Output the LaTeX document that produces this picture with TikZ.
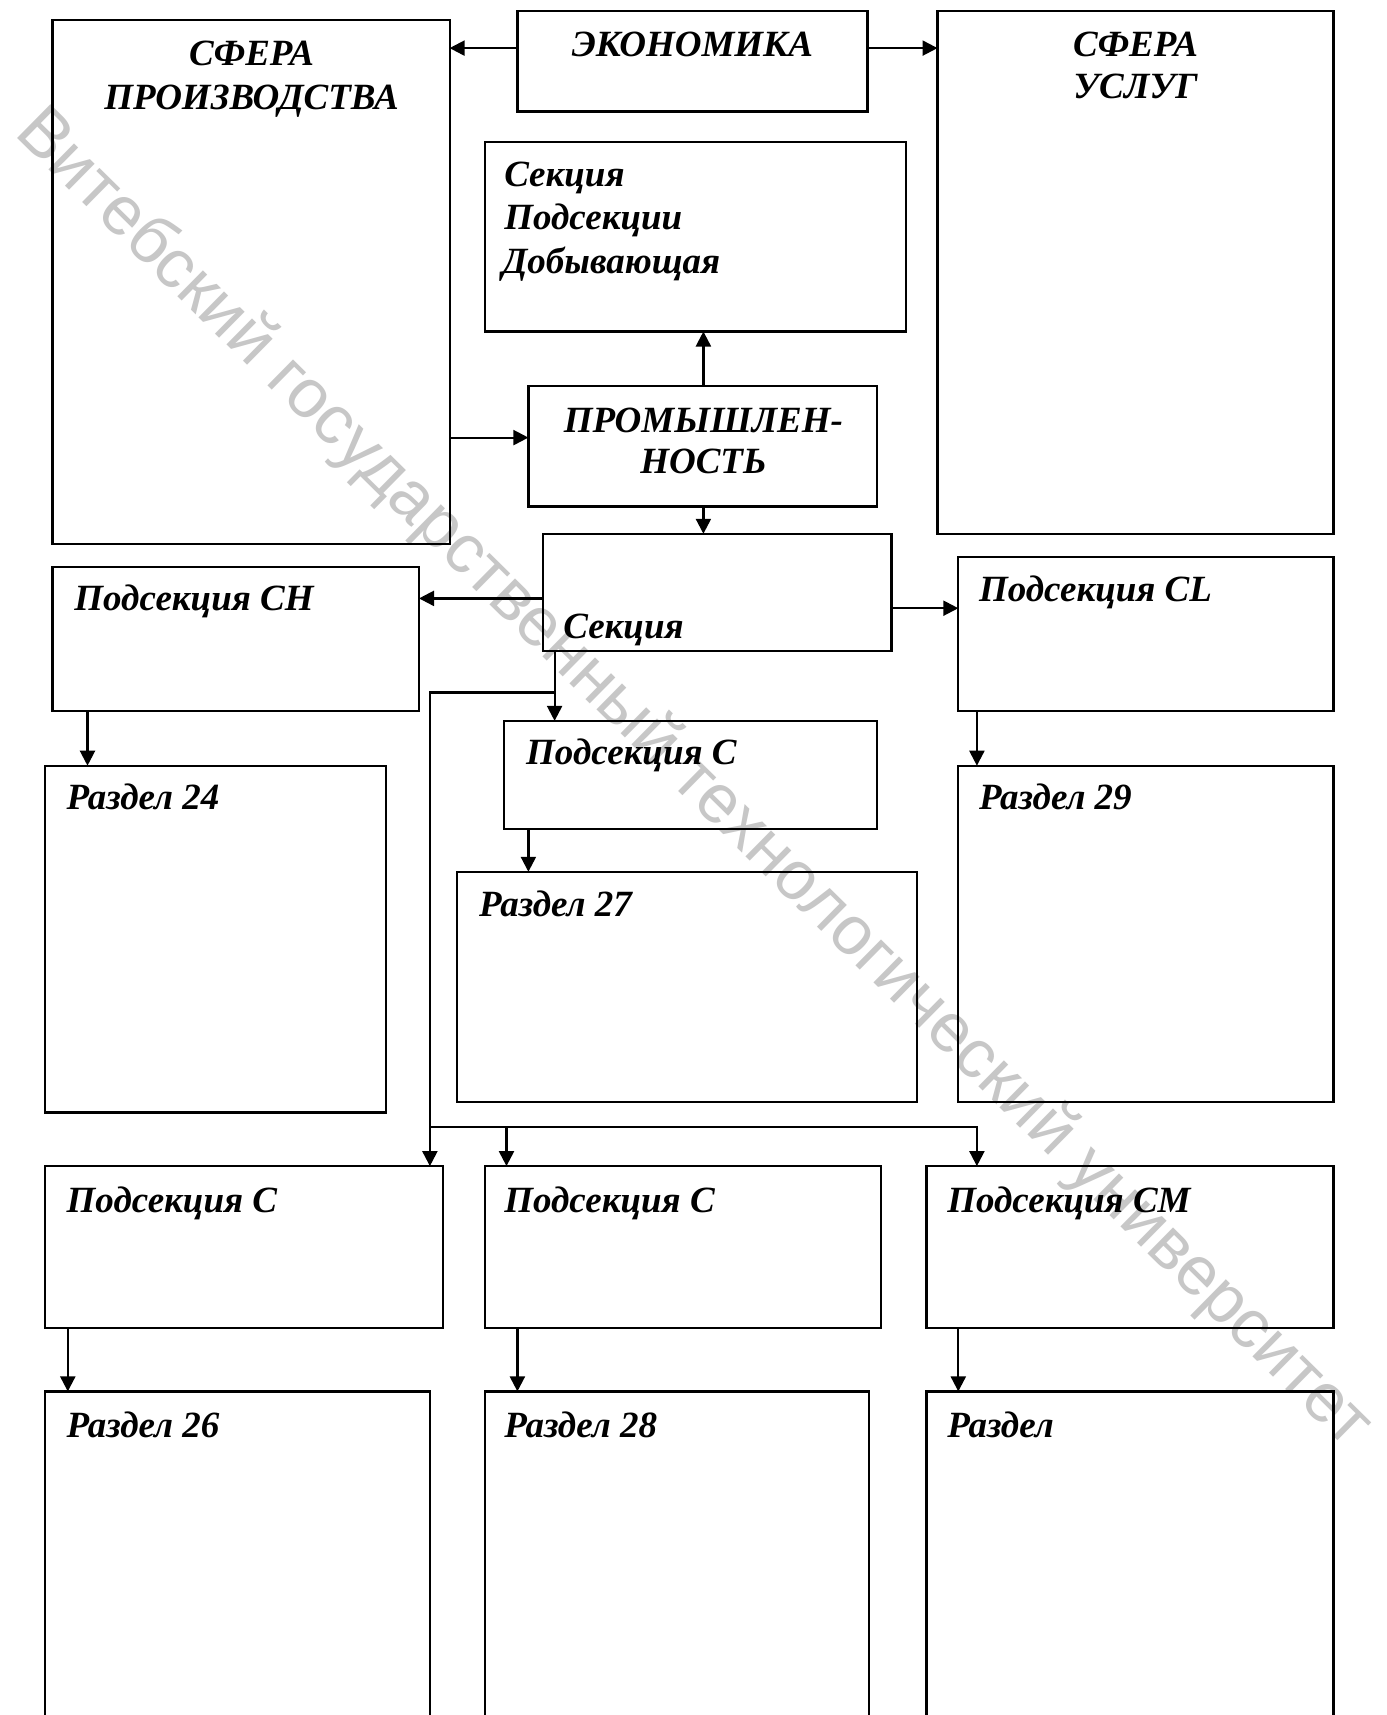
\documentclass[tikz,border=0pt]{standalone}
\usepackage{fontspec}
\setmainfont{Liberation Serif}
\newfontfamily\wmfont{Liberation Sans}
\usetikzlibrary{arrows.meta,fit}
\begin{document}
\begin{tikzpicture}[x=1pt,y=-1pt,
  box/.style={draw, line width=2.2pt, inner sep=0pt, outer sep=0pt},
  lbl/.style={inner sep=0pt, outer sep=0pt, font=\fontsize{37}{44}\selectfont\bfseries\itshape, anchor=base west},
  clbl/.style={lbl, anchor=base},
  conn/.style={line width=2.2pt, -{Triangle[length=15pt,width=15pt]}},
  wire/.style={line width=2.2pt}]
\clip (0,0) rectangle (1386,1715);
\fill[white] (0,0) rectangle (1386,1715);
% watermark
\node[rotate=-44.6, text=black!22, inner sep=0pt, font=\wmfont\fontsize{69}{69}\selectfont] (wm) at (693,779) {Витебский государственный технологический университет};
% boxes
\node[box, fit={(52.5,19.7) (449.6,543.7)}] (prod) {};
\node[box, fit={(517.4,10.9) (867.5,111.6)}] (econ) {};
\node[box, fit={(937.5,10.9) (1333.5,533.8)}] (serv) {};
\node[box, fit={(484.6,142.2) (905.7,331.5)}] (sek1) {};
\node[box, fit={(528.4,386.1) (877.3,506.5)}] (prom) {};
\node[box, fit={(542.6,533.8) (891.5,650.9)}] (sek2) {};
\node[box, fit={(52.5,566.6) (419.0,711.0)}] (CH) {};
\node[box, fit={(958.3,556.8) (1333.5,711.0)}] (CL) {};
\node[box, fit={(504.3,720.9) (877.3,829.2)}] (Cmid) {};
\node[box, fit={(44.9,765.7) (386.1,1112.5)}] (R24) {};
\node[box, fit={(958.3,765.7) (1333.5,1101.6)}] (R29) {};
\node[box, fit={(457.3,871.8) (916.7,1101.6)}] (R27) {};
\node[box, fit={(44.9,1166.1) (443.0,1328.0)}] (Cbl) {};
\node[box, fit={(484.6,1166.1) (880.6,1328.0)}] (Cbm) {};
\node[box, fit={(926.5,1166.1) (1333.5,1328.0)}] (CM) {};
\node[box, fit={(44.9,1391.4) (429.9,1740)}] (R26) {};
\node[box, fit={(484.6,1391.4) (868.6,1740)}] (R28) {};
\node[box, fit={(926.5,1391.4) (1333.5,1740)}] (R) {};
% labels
\node[clbl] (t1) at (251.6,65.6) {СФЕРА};
\node[clbl] (t2) at (251.6,109.4) {ПРОИЗВОДСТВА};
\node[clbl] (t3) at (692.4,56.9) {ЭКОНОМИКА};
\node[clbl] (t4) at (1135.5,56.9) {СФЕРА};
\node[clbl] (t5) at (1135.5,98.5) {УСЛУГ};
\node[lbl] (t6) at (504.3,186) {Секция};
\node[lbl] (t7) at (504.3,229.7) {Подсекции};
\node[lbl] (t8) at (502.1,273.5) {Добывающая};
\node[clbl] (t9) at (703.4,432.1) {ПРОМЫШЛЕН-};
\node[clbl] (t10) at (703.4,473.7) {НОСТЬ};
\node[lbl] (t11) at (563.4,638.8) {Секция};
\node[lbl] (t12) at (74.4,610.4) {Подсекция CH};
\node[lbl] (t13) at (979,601.7) {Подсекция CL};
\node[lbl] (t14) at (526.2,764.6) {Подсекция C};
\node[lbl] (t15) at (66.7,809.5) {Раздел 24};
\node[lbl] (t16) at (979,809.5) {Раздел 29};
\node[lbl] (t17) at (479.1,916.7) {Раздел 27};
\node[lbl] (t18) at (66.7,1212) {Подсекция C};
\node[lbl] (t19) at (504.3,1212) {Подсекция C};
\node[lbl] (t20) at (947.3,1212) {Подсекция CM};
\node[lbl] (t21) at (66.7,1437.4) {Раздел 26};
\node[lbl] (t22) at (504.3,1437.4) {Раздел 28};
\node[lbl] (t23) at (947.3,1437.4) {Раздел};
% connectors
\draw[conn] (econ.west |- 0,48.1) -- (prod.east |- 0,48.1);
\draw[conn] (econ.east |- 0,48.1) -- (serv.west |- 0,48.1);
\draw[conn] (prod.east |- 0,437.6) -- (prom.west |- 0,437.6);
\draw[conn] (prom.north -| 703.4,0) -- (sek1.south -| 703.4,0);
\draw[conn] (prom.south -| 703.4,0) -- (sek2.north -| 703.4,0);
\draw[conn] (sek2.west |- 0,598.4) -- (CH.east |- 0,598.4);
\draw[conn] (sek2.east |- 0,608.2) -- (CL.west |- 0,608.2);
\draw[conn] (sek2.south -| 554.6,0) -- (Cmid.north -| 554.6,0);
\coordinate (j1) at (554.6,692.4);
\coordinate (j2) at (429.9,692.4);
\coordinate (j3) at (429.9,1126.7);
\coordinate (j4) at (976.9,1126.7);
\coordinate (j5) at (506.5,1126.7);
\draw[conn] (j1) -- (j2) -- (j2 |- Cbl.north);
\draw[conn] (j3) -- (j4) -- (j4 |- CM.north);
\draw[conn] (j5) -- (j5 |- Cbm.north);
\draw[conn] (CH.south -| 87.5,0) -- (R24.north -| 87.5,0);
\draw[conn] (CL.south -| 976.9,0) -- (R29.north -| 976.9,0);
\draw[conn] (Cmid.south -| 528.4,0) -- (R27.north -| 528.4,0);
\draw[conn] (Cbl.south -| 67.8,0) -- (R26.north -| 67.8,0);
\draw[conn] (Cbm.south -| 517.4,0) -- (R28.north -| 517.4,0);
\draw[conn] (CM.south -| 958.3,0) -- (R.north -| 958.3,0);
\end{tikzpicture}
\end{document}
